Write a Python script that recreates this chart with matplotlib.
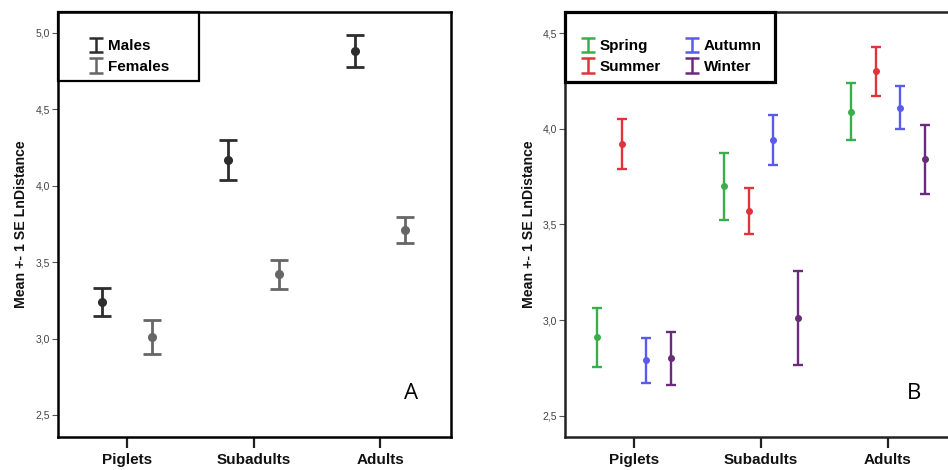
import numpy as np
import matplotlib
matplotlib.use("Agg")
import matplotlib.pyplot as plt
from matplotlib.patches import Rectangle
from matplotlib.container import ErrorbarContainer
from matplotlib.legend_handler import HandlerErrorbar
from matplotlib.ticker import MultipleLocator, FuncFormatter

plt.rcParams['font.family'] = ['Liberation Sans', 'DejaVu Sans']

# data (mean and 1 SE)
age_classes = ["Piglets", "Subadults", "Adults"]

sex_names = ["Males", "Females"]
males_mean = [3.24, 4.17, 4.88]
males_se = [0.09, 0.13, 0.105]
females_mean = [3.01, 3.42, 3.71]
females_se = [0.11, 0.094, 0.085]

season_names = ["Spring", "Summer", "Autumn", "Winter"]
spring_mean = [2.91, 3.70, 4.09]
spring_se = [0.155, 0.175, 0.15]
summer_mean = [3.92, 3.57, 4.30]
summer_se = [0.13, 0.12, 0.13]
autumn_mean = [2.79, 3.94, 4.11]
autumn_se = [0.118, 0.131, 0.112]
winter_mean = [2.80, 3.01, 3.84]
winter_se = [0.14, 0.245, 0.178]


def comma_fmt(v, pos):
    return f"{v:.1f}".replace(".", ",")


def style_axes(ax, ylim, spine_color, label_x):
    ax.set_xlim(-0.545, 2.56)
    ax.set_ylim(*ylim)
    ax.set_xticks(range(len(age_classes)))
    ax.set_xticklabels(age_classes, fontsize=11, fontweight='bold', color='#111111')
    ax.tick_params(axis='x', length=8, width=1.6, color='#222222', pad=3.5)
    ax.yaxis.set_major_locator(MultipleLocator(0.5))
    ax.yaxis.set_major_formatter(FuncFormatter(comma_fmt))
    ax.tick_params(axis='y', length=4, width=0.8, color='#555555', labelsize=7.5,
                   labelcolor='#444444', pad=1.5)
    ax.set_ylabel("Mean +- 1 SE LnDistance", fontsize=10.2, fontweight='bold', color='#111111')
    ax.yaxis.set_label_coords(label_x, 0.5)
    for s in ax.spines.values():
        s.set_linewidth(1.8)
        s.set_color(spine_color)


def legend_box(ax, names, colors, w, h, lw, anchor, ncol, colspace):
    # error bar proxies (no data) so the legend shows the I shape only
    proxies = [ax.errorbar([np.nan], [np.nan], yerr=[0.1], fmt='none', ecolor=c,
                           elinewidth=1.8, capsize=5, capthick=1.8) for c in colors]
    ax.legend(proxies, names, loc='center left', bbox_to_anchor=anchor, borderpad=0,
              borderaxespad=0, frameon=False, ncol=ncol, prop={'weight': 'bold', 'size': 11},
              handlelength=1.2, handletextpad=0.15, labelspacing=0.42, columnspacing=colspace,
              handler_map={ErrorbarContainer: HandlerErrorbar(yerr_size=0.48)})
    ax.add_patch(Rectangle((0, 1 - h), w, h, transform=ax.transAxes, fill=False,
                           edgecolor='black', linewidth=lw, clip_on=False, zorder=5))


fig = plt.figure(figsize=(9.48, 4.70), dpi=100)
x = np.arange(len(age_classes))

# panel A
axA = fig.add_axes([0.0612, 0.0702, 0.4145, 0.9043])
sex_colors = ['#2d2d2d', '#666666']
for i, (m, se) in enumerate([(males_mean, males_se), (females_mean, females_se)]):
    off = -0.2 if i == 0 else 0.2
    axA.errorbar(x + off, m, yerr=se, fmt='o', color=sex_colors[i], ms=5.5,
                 elinewidth=2, capsize=6.5, capthick=2)
style_axes(axA, (2.356, 5.137), 'black', -0.0755)
legend_box(axA, sex_names, sex_colors, 0.359, 0.1624, 1.6, (0.074, 0.895), 1, 1.0)
axA.text(0.898, 0.1035, "A", transform=axA.transAxes, fontsize=16, ha='center', va='center',
         family=['Open Sans', 'DejaVu Sans'])

# panel B
axB = fig.add_axes([0.596, 0.0702, 0.4156, 0.9043])
season_colors = ['#3aae48', '#e0343c', '#5a5aec', '#6c2a7c']
season_offsets = [-0.29, -0.097, 0.097, 0.29]
series = [(spring_mean, spring_se), (summer_mean, summer_se),
          (autumn_mean, autumn_se), (winter_mean, winter_se)]
for (m, se), c, off in zip(series, season_colors, season_offsets):
    axB.errorbar(x + off, m, yerr=se, fmt='o', color=c, ms=4,
                 elinewidth=1.7, capsize=3.5, capthick=1.7)
style_axes(axB, (2.389, 4.611), '#222222', -0.073)
legend_box(axB, season_names, season_colors, 0.533, 0.165, 2.3, (0.0355, 0.895), 2, 1.44)
axB.text(0.886, 0.1035, "B", transform=axB.transAxes, fontsize=16, ha='center', va='center',
         family=['Open Sans', 'DejaVu Sans'])

fig.savefig("out.png", dpi=100)
